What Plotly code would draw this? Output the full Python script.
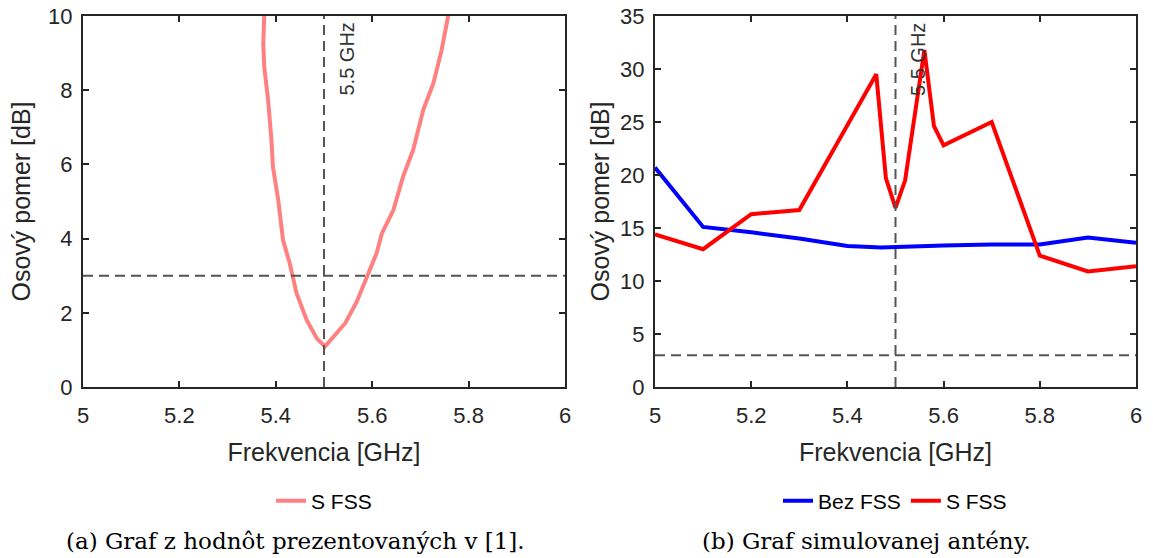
import plotly.graph_objects as go

# Left panel: values presented in [1]
lit_freq = [5.376, 5.374, 5.376, 5.384, 5.391, 5.394, 5.405, 5.415, 5.429, 5.443,
            5.464, 5.485, 5.502, 5.519, 5.544, 5.568, 5.589, 5.609, 5.620, 5.644,
            5.664, 5.685, 5.706, 5.727, 5.744, 5.758, 5.762]
lit_ar = [10.0, 9.26, 8.63, 7.74, 6.66, 5.94, 5.04, 3.96, 3.33, 2.53,
          1.81, 1.31, 1.09, 1.36, 1.72, 2.30, 2.97, 3.60, 4.14, 4.77,
          5.67, 6.39, 7.47, 8.19, 9.08, 9.98, 10.3]

# Right panel: simulated antenna
bez_freq = [5.0, 5.1, 5.2, 5.3, 5.4, 5.47, 5.6, 5.7, 5.8, 5.9, 6.0]
bez_ar = [20.7, 15.1, 14.6, 14.0, 13.3, 13.15, 13.35, 13.45, 13.45, 14.1, 13.6]

s_freq = [5.0, 5.1, 5.2, 5.3, 5.46, 5.48, 5.5, 5.52, 5.56, 5.58, 5.6, 5.7, 5.8, 5.9, 6.0]
s_ar = [14.4, 13.0, 16.3, 16.7, 29.5, 19.7, 16.9, 19.5, 31.8, 24.6, 22.8, 25.0, 12.4, 10.9, 11.4]

x_ticks = [5, 5.2, 5.4, 5.6, 5.8, 6]
x_tick_text = ["5", "5.2", "5.4", "5.6", "5.8", "6"]
left_y_ticks = [0, 2, 4, 6, 8, 10]
right_y_ticks = [0, 5, 10, 15, 20, 25, 30, 35]
marker_freq = 5.5
threshold_db = 3

W, H = 1153, 558
AX = "#262626"
SANS = "Liberation Sans"
SERIF = "DejaVu Serif"


def px(x):
    return x / W


def py(y):
    return 1 - y / H


fig = go.Figure()
fig.add_trace(go.Scatter(x=lit_freq, y=lit_ar, mode="lines", name="S FSS",
                         line=dict(color="#FF8080", width=4),
                         xaxis="x", yaxis="y", legend="legend"))
fig.add_trace(go.Scatter(x=bez_freq, y=bez_ar, mode="lines", name="Bez FSS",
                         line=dict(color="#0000FF", width=4),
                         xaxis="x2", yaxis="y2", legend="legend2"))
fig.add_trace(go.Scatter(x=s_freq, y=s_ar, mode="lines", name="S FSS",
                         line=dict(color="#FF0000", width=4),
                         xaxis="x2", yaxis="y2", legend="legend2"))


def xax(domain, anchor):
    return dict(domain=domain, anchor=anchor, range=[5, 6], tickvals=x_ticks,
                ticktext=x_tick_text, ticks="inside", ticklen=6, tickwidth=1.5,
                tickcolor=AX, showline=True, linecolor=AX, linewidth=2, mirror="ticks",
                showgrid=False, zeroline=False, ticklabelstandoff=8, automargin=False,
                ticklabeloverflow="allow",
                tickfont=dict(family=SANS, size=22, color=AX),
                title=dict(text="Frekvencia [GHz]", font=dict(family=SANS, size=25, color=AX),
                           standoff=16))


def yax(domain, anchor, rng, ticks, standoff):
    return dict(domain=domain, anchor=anchor, range=rng, tickvals=ticks,
                ticks="inside", ticklen=6, tickwidth=1.5, tickcolor=AX,
                showline=True, linecolor=AX, linewidth=2, mirror="ticks",
                showgrid=False, zeroline=False, ticklabelstandoff=4, automargin=False,
                ticklabeloverflow="allow",
                tickfont=dict(family=SANS, size=22, color=AX),
                title=dict(text="Osový pomer [dB]", font=dict(family=SANS, size=25, color=AX),
                           standoff=standoff))


ydom = [py(387), py(16)]
fig.update_layout(
    width=W, height=H, margin=dict(l=0, r=0, t=0, b=0, autoexpand=False),
    paper_bgcolor="white", plot_bgcolor="white",
    xaxis=xax([px(83), px(565)], "y"),
    yaxis=yax(ydom, "x", [0, 10], left_y_ticks, 10),
    xaxis2=xax([px(655), px(1136)], "y2"),
    yaxis2=yax(ydom, "x2", [0, 35], right_y_ticks, 3),
    legend=dict(orientation="h", x=px(324), xanchor="center", y=py(501), yanchor="middle",
                font=dict(family=SANS, size=21, color="black"), bgcolor="rgba(0,0,0,0)"),
    legend2=dict(orientation="h", x=px(895), xanchor="center", y=py(501), yanchor="middle",
                 font=dict(family=SANS, size=21, color="black"), bgcolor="rgba(0,0,0,0)"),
    showlegend=True,
)

dash_line = dict(color="#555555", width=2, dash="10px,6px")
for xr, yr in [("x", "y"), ("x2", "y2")]:
    fig.add_shape(type="line", xref=xr, yref=yr + " domain", x0=marker_freq, x1=marker_freq,
                  y0=0, y1=1, line=dash_line, layer="above")
    fig.add_shape(type="line", xref=xr + " domain", yref=yr, x0=0, x1=1,
                  y0=threshold_db, y1=threshold_db, line=dash_line, layer="above")
    fig.add_annotation(xref=xr, yref=yr + " domain", x=marker_freq, y=1, text="5.5 GHz",
                       textangle=-90, showarrow=False, xanchor="left", yanchor="top",
                       xshift=9, yshift=-5, font=dict(family=SANS, size=20, color="#333333"))

fig.add_annotation(xref="paper", yref="paper", x=px(295), y=py(541),
                   text="(a) Graf z hodnôt prezentovaných v [1].", showarrow=False,
                   xanchor="center", yanchor="middle", font=dict(family=SERIF, size=23, color="black"))
fig.add_annotation(xref="paper", yref="paper", x=px(866), y=py(541),
                   text="(b) Graf simulovanej antény.", showarrow=False,
                   xanchor="center", yanchor="middle", font=dict(family=SERIF, size=23, color="black"))

# remove the default 8px body margin so the figure fills the window exactly
fig.write_html("out.html", config={"displayModeBar": False},
               post_script="document.body.style.margin='0px';")
